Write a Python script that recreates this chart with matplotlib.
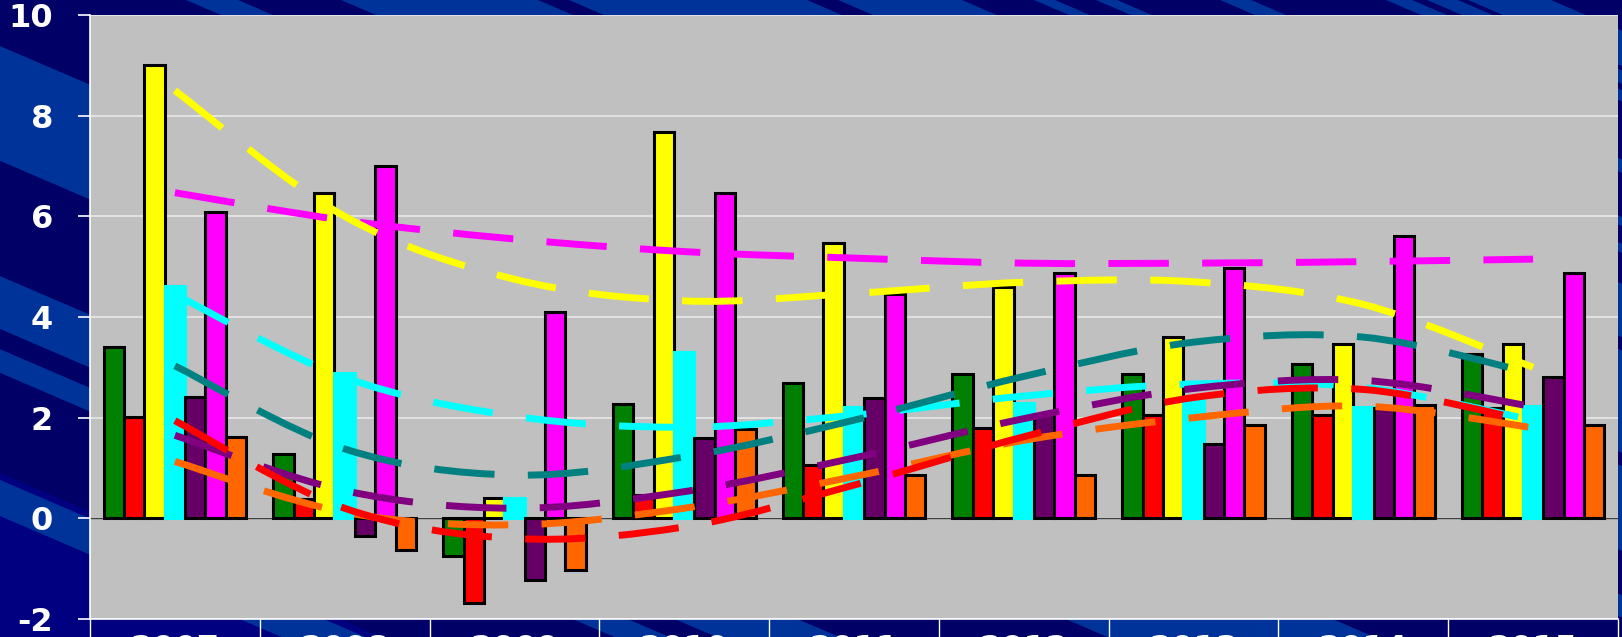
import numpy as np
import matplotlib
matplotlib.use("Agg")
import matplotlib.pyplot as plt
from matplotlib.path import Path
from matplotlib.patches import PathPatch, Polygon

plt.rcParams["axes.unicode_minus"] = False

# categories
years = ["2007", "2008", "2009", "2010", "2011", "2012", "2013", "2014", "2015"]

# bar series
green_bars = [3.41, 1.27, -0.75, 2.28, 2.68, 2.87, 2.87, 3.07, 3.27]
red_bars = [2.01, 0.38, -1.68, 0.46, 1.06, 1.80, 2.06, 2.06, 2.20]
yellow_bars = [9.0, 6.47, 0.41, 7.68, 5.48, 4.59, 3.61, 3.47, 3.47]
cyan_bars = [4.62, 2.88, 0.41, 3.30, 2.22, 2.30, 2.42, 2.22, 2.24]
purple_bars = [2.42, -0.36, -1.22, 1.60, 2.40, 2.07, 1.47, 2.20, 2.80]
magenta_bars = [6.08, 7.0, 4.09, 6.47, 4.45, 4.87, 4.97, 5.60, 4.87]
orange_bars = [1.62, -0.62, -1.02, 1.78, 0.86, 0.87, 1.85, 2.26, 1.85]

# dashed trend lines
yellow_line = [8.5, 6.0, 4.75, 4.32, 4.47, 4.69, 4.70, 4.25, 3.0]
magenta_line = [6.47, 5.92, 5.55, 5.30, 5.17, 5.07, 5.07, 5.10, 5.15]
cyan_line = [4.45, 2.80, 2.03, 1.81, 2.05, 2.43, 2.67, 2.60, 1.95]
teal_line = [3.03, 1.38, 0.86, 1.22, 1.95, 2.82, 3.50, 3.60, 2.88]
red_line = [1.94, 0.20, -0.40, -0.17, 0.66, 1.62, 2.40, 2.56, 1.92]
purple_line = [1.65, 0.55, 0.20, 0.53, 1.20, 1.98, 2.58, 2.74, 2.22]
orange_line = [1.13, 0.12, -0.13, 0.20, 0.83, 1.55, 2.00, 2.23, 1.80]

bars = [
    (green_bars, "#008000"),
    (red_bars, "#FF0000"),
    (yellow_bars, "#FFFF00"),
    (cyan_bars, "#00FFFF"),
    (purple_bars, "#660066"),
    (magenta_bars, "#FF00FF"),
    (orange_bars, "#FF6600"),
]
lines = [
    (magenta_line, "#FF00FF"),
    (yellow_line, "#FFFF00"),
    (cyan_line, "#00FFFF"),
    (teal_line, "#008080"),
    (purple_line, "#800080"),
    (orange_line, "#FF6600"),
    (red_line, "#FF0000"),
]

W, H = 1622, 637
fig = plt.figure(figsize=(W / 100, H / 100), dpi=100)
fig.patch.set_facecolor("#000066")


# slide background: diagonal bands (pixel coords, y down)
def band(a, b, slope=0.43, color="#003399"):
    # band between two lines crossing the top edge at x=a and x=b
    pts = []
    for x0, yy in [(a, 0), (b, 0), (b + H / slope, H), (a + H / slope, H)]:
        pts.append((x0 / W, 1 - yy / H))
    fig.add_artist(Polygon(pts, closed=True, transform=fig.transFigure,
                           facecolor=color, edgecolor="none", zorder=-10))


band(-2600, -1100, color="#000080")
for a, b in [(-107, -374), (-642, -765), (-812, -867), (-1116, -1200),
             (186, 238), (341, 538), (569, 807), (838, 962), (1034, 1055),
             (1096, 1117), (1220, 1251), (1386, 1412), (1427, 1458), (1468, 1551)]:
    band(a, b)

ax = fig.add_axes([90 / W, 18 / H, 1528 / W, 604 / H])
ax.set_facecolor("#C0C0C0")

x = np.arange(len(years))
step = 0.12
for i, (vals, col) in enumerate(bars):
    ec = col if col == "#00FFFF" else "black"
    ax.bar(x + (i - 3) * step, vals, 0.12, color=col, edgecolor=ec,
           linewidth=2.2, zorder=2 + i * 0.01)


def smooth_path(xs, ys):
    pts = np.column_stack([xs, ys]).astype(float)
    verts, codes = [pts[0]], [Path.MOVETO]
    n = len(pts)
    for i in range(n - 1):
        p0 = pts[max(i - 1, 0)]
        p1, p2 = pts[i], pts[i + 1]
        p3 = pts[min(i + 2, n - 1)]
        verts += [p1 + (p2 - p0) / 6, p2 - (p3 - p1) / 6, p2]
        codes += [Path.CURVE4] * 3
    return Path(verts, codes)


for j, (vals, col) in enumerate(lines):
    ax.add_patch(PathPatch(smooth_path(x, vals), fill=False, edgecolor=col,
                           linewidth=5, linestyle=(0, (8.7, 4.8)),
                           capstyle="butt", zorder=5 + j * 0.01))

ax.axhline(0, color="#404040", lw=1, zorder=1.5)

ax.set_xlim(-0.5, 8.5)
ax.set_ylim(-2, 10)

ax.set_yticks(range(-2, 11, 2))
ax.yaxis.grid(True, color="#E8E8E8", lw=1.2)
ax.set_axisbelow(True)
ax.tick_params(axis="y", colors="white", length=8.6, width=1.2, pad=18,
               labelsize=23)
for lbl in ax.get_yticklabels():
    lbl.set_fontweight("bold")

ax.set_xticks(x)
ax.set_xticklabels(years, color="white", fontsize=23, fontweight="bold")
ax.set_xticks(np.arange(-0.5, 9, 1), minor=True)
ax.tick_params(axis="x", which="major", length=0, pad=11)
ax.tick_params(axis="x", which="minor", length=30, width=1, color="white")

for side in ["top", "right"]:
    ax.spines[side].set_visible(False)
for side in ["left", "bottom"]:
    ax.spines[side].set_color("white")
    ax.spines[side].set_linewidth(1.2)

fig.savefig("out.png", dpi=100, facecolor=fig.get_facecolor())
